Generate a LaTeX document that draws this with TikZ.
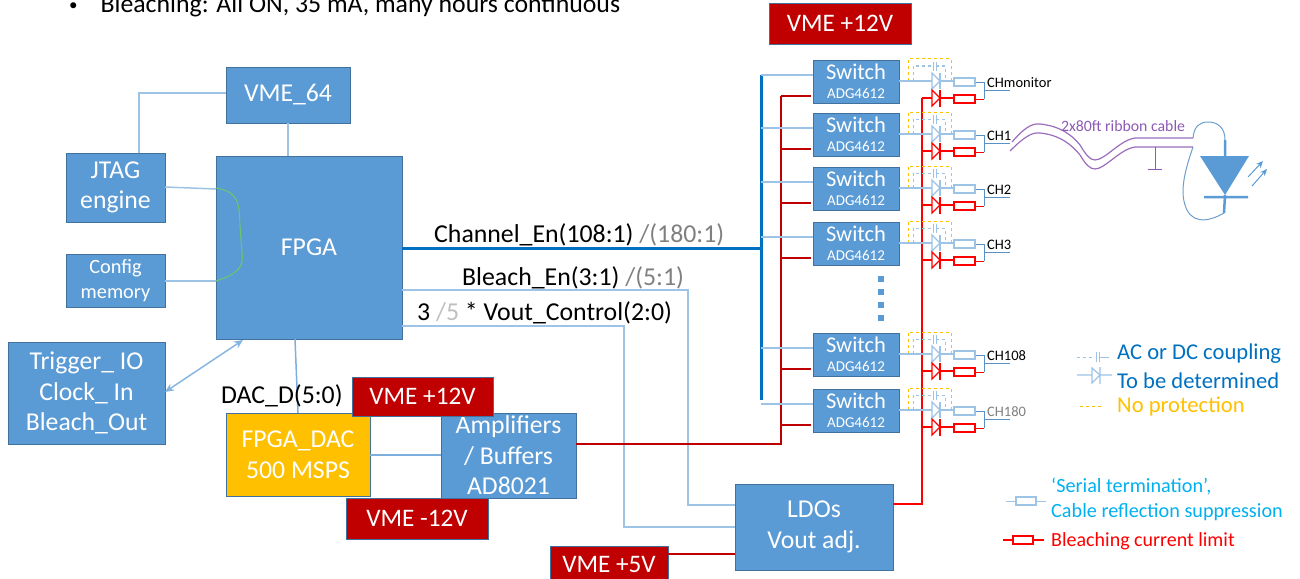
\documentclass[tikz,border=0pt]{standalone}
\usepackage{fontspec}
\setmainfont{Carlito}
\usetikzlibrary{arrows.meta}
\definecolor{boxblue}{HTML}{5B9BD5}
\definecolor{boxedge}{HTML}{41719C}
\definecolor{wireblue}{HTML}{9DC3E6}
\definecolor{busblue}{HTML}{2E75B6}
\definecolor{darkred}{HTML}{C00000}
\definecolor{amber}{HTML}{FFC000}
\definecolor{ribbon}{HTML}{7030A0}
\definecolor{legblue}{HTML}{0070C0}
\definecolor{legcyan}{HTML}{00B0F0}
\tikzset{
  block/.style={draw=boxedge, fill=boxblue, text=white, align=center, inner sep=0pt, font=\fontsize{25.7}{30.5}\selectfont},
  supply/.style={draw=boxedge, fill=darkred, text=white, align=center, inner sep=0pt, font=\fontsize{25.2}{30}\selectfont},
  wire/.style={draw=wireblue, line width=1.5pt},
  redwire/.style={draw=darkred, line width=1.5pt},
  sig/.style={inner sep=0pt, anchor=west, font=\fontsize{25.8}{30}\selectfont},
  legend/.style={inner sep=0pt, anchor=west, font=\fontsize{22.6}{26}\selectfont},
  chlabel/.style={inner sep=0pt, anchor=west, font=\fontsize{14.5}{16}\selectfont},
  res/.style={draw=#1, fill=white, line width=1.2pt, minimum width=21pt, minimum height=8pt, inner sep=0pt},
}
% a box given by its pixel corners: name, left, top, right, bottom, style, text
\newcommand{\pixbox}[7]{\node[#6, minimum width=#4pt-#2pt, minimum height=#5pt-#3pt] (#1) at ({(#2+#4)/2},{(#3+#5)/2}) {#7};}
\begin{document}
\begin{tikzpicture}[x=1pt, y=-1pt, >=stealth]
\useasboundingbox (0,0) rectangle (1300,578);
\clip (0,0) rectangle (1300,578);
\node[inner sep=0pt, anchor=base west, font=\fontsize{25.8}{30}\selectfont] (note) at (69,12.5) {\raisebox{2pt}{\fontsize{17}{20}\selectfont\textbullet}\hspace{22.9pt}Bleaching: All ON, 35 mA, many hours continuous};
% blocks
\pixbox{vme}{226}{67}{350}{123}{block}{VME\_64}
\pixbox{fpga}{216}{156}{402}{339}{block}{FPGA}
\pixbox{jtag}{66}{153}{165}{222}{block}{JTAG\\engine}
\pixbox{config}{66}{254}{165}{307}{block, font=\fontsize{20.3}{25}\selectfont}{Config\\memory}
\pixbox{trigger}{8}{342}{165}{444}{block}{Trigger\_ IO\\Clock\_ In\\Bleach\_Out}
\pixbox{dac}{226}{413}{370}{496}{block, fill=amber, draw=boxedge}{FPGA\_DAC\\500 MSPS}
\pixbox{amp}{441}{413}{576}{498}{block}{Amplifiers\\/ Buffers\\AD8021}
\pixbox{ldo}{735}{484}{893}{570}{block}{LDOs\\Vout adj.}
\pixbox{vtop}{769}{3}{911}{44}{supply}{VME +12V}
\pixbox{vmid}{352}{377}{493}{416}{supply}{VME +12V}
\pixbox{vneg}{346}{498}{488}{539}{supply}{VME -12V}
\pixbox{vfive}{550}{546}{668}{590}{supply}{\raisebox{7pt}{VME +5V}}
% FPGA side wires
\coordinate (jtagup) at (139,93);
\draw[wire] (vme.west |- jtagup) -- (jtagup) -- (jtagup |- jtag.north);
\draw[wire] (288,123) -- (288,156);
\draw[wire] (165,187) -- (216,189);
\draw[wire] (165,281) -- (216,281);
\draw[draw=green!45!gray!80, line width=1pt] (216,188) .. controls (240,192) and (239,205) .. (240,225) .. controls (241,245) and (243,255) .. (242,262) .. controls (240,272) and (228,277) .. (216,281);
\draw[wire, {Stealth[length=9pt,width=8pt]}-{Stealth[length=9pt,width=8pt]}, draw=boxblue!75] (165,392) -- (243,340);
\draw[wire, draw=boxblue!80] (295,339) -- (298,413);
\draw[wire, draw=boxblue!80] (dac.east |- 0,455) -- (amp.west |- 0,455);
\coordinate (blA) at (688,290);
\coordinate (blB) at (624,326);
\draw[wire] (fpga.east |- blA) -- (blA) -- (blA |- 0,505) -- (ldo.west |- 0,505);
\draw[wire] (fpga.east |- blB) -- (blB) -- (blB |- 0,527) -- (ldo.west |- 0,527);
% buses
\coordinate (enbus) at (761,248);
\draw[draw=legblue, line width=3pt] (fpga.east |- enbus) -- (enbus);
\draw[draw=legblue, line width=3pt] (761,75) -- (761,400);
\draw[draw=darkred, line width=2pt] (amp.east |- 0,444) -- (781,444) -- (781,96);
\draw[draw=red, line width=2.5pt] (ldo.east |- 0,504) -- (922,504) -- (922,98);
\draw[draw=darkred, line width=2.5pt] (vfive.east |- 0,554) -- (ldo.west |- 0,554);
% signal names
\node[sig] (chen) at (434,235) {Channel\_En(108:1) {\color{gray}/(180:1)}};
\node[sig] (blen) at (462,278) {Bleach\_En(3:1) {\color{gray}/(5:1)}};
\node[sig] (vout) at (417,313) {3 {\color{lightgray}/5} * Vout\_Control(2:0)};
\node[sig] (dacd) at (221,396) {DAC\_D(5:0)};
% switch channels
\foreach \n/\t/\lab/\col in {a/60/CHmonitor/black, b/113/CH1/black, c/167/CH2/black, d/222/CH3/black, e/333/CH108/black, f/389/CH180/gray}{
  \pixbox{sw\n}{813}{\t}{899}{\t+43}{block}{}
  \node[inner sep=0pt, text=white, font=\fontsize{22.5}{24}\selectfont] (swname\n) at (856,\t+12) {Switch};
  \node[inner sep=0pt, text=white, font=\fontsize{15}{17}\selectfont] (swpart\n) at (856,\t+33) {ADG4612};
  \draw[wire] (761,\t+15) -- (sw\n.west |- 0,\t+15);
  \draw[redwire] (781,\t+36) -- (811,\t+36);
  % protection network
  \draw[draw=amber, line width=1pt, dashed] (908,\t+21) -- (908,\t-1) -- (951,\t-1) -- (951,\t+20);
  \draw[draw=wireblue, line width=1pt, dashed] (913,\t+21) -- (913,\t+6) -- (932,\t+6);
  \draw[draw=wireblue, line width=1pt, dashed] (936,\t+6) -- (945,\t+6) -- (945,\t+21);
  \draw[draw=wireblue, line width=1pt] (933,\t+2) -- (933,\t+11) (936,\t+2) -- (936,\t+11);
  \draw[wire] (899,\t+21) -- (932,\t+21);
  \draw[draw=wireblue, fill=white, line width=1.2pt] (932,\t+13) -- (940,\t+21) -- (932,\t+29) -- cycle;
  \draw[draw=wireblue, line width=1.2pt] (940,\t+13) -- (940,\t+29);
  \draw[wire] (940,\t+21) -- (954,\t+21);
  \draw[draw=red, line width=1.2pt] (922,\t+38) -- (932,\t+38);
  \draw[draw=red, fill=white, line width=1.2pt] (932,\t+30) -- (940,\t+38) -- (932,\t+46) -- cycle;
  \draw[draw=red, line width=1.2pt] (940,\t+30) -- (940,\t+47);
  \draw[draw=red, line width=1.2pt] (940,\t+38) -- (954,\t+38);
  \node[res=wireblue] (rb\n) at (964.5,\t+22) {};
  \node[res=red] (rr\n) at (964.5,\t+39) {};
  \draw[draw=busblue!80, line width=1pt] (rb\n.east) -- (984,\t+22) -- (984,\t+39);
  \draw[draw=red, line width=1pt] (rr\n.east) -- (984,\t+39);
  \draw[draw=busblue!80, line width=1pt] (984,\t+30) -- (1010,\t+30);
  \node[chlabel, text=\col] (ch\n) at (987,\t+22.5) {\lab};
}
% dots between the switches
\foreach \y in {279,292,305,318}
  \fill[boxblue] (877.5,\y-3) rectangle (883.5,\y+3);
% ribbon cable
\draw[draw=ribbon!70, line width=1.2pt] (1012,142) .. controls (1024,128) and (1032,123) .. (1040,124) .. controls (1060,126) and (1072,135) .. (1080,145) .. controls (1086,155) and (1090,160) .. (1095,160) .. controls (1105,160) and (1120,140) .. (1135,138) -- (1193,138);
\draw[draw=ribbon!70, line width=1.2pt] (1010,151) .. controls (1024,137) and (1032,132) .. (1040,133) .. controls (1060,135) and (1072,145) .. (1080,155) .. controls (1086,165) and (1090,169) .. (1095,169) .. controls (1105,169) and (1120,149) .. (1135,147) -- (1193,147);
\draw[draw=ribbon!80, line width=1pt] (1155,147) -- (1155,169) (1148,169) -- (1162,169);
\node[inner sep=0pt, text=ribbon!80, font=\fontsize{15.8}{18}\selectfont] (ribbonlab) at (1123,126) {2x80ft ribbon cable};
% LED
\coordinate (ledtop) at (1225,140);
\coordinate (ledbot) at (1224,213);
\draw[draw=busblue!70, line width=1pt] (1193,138) .. controls (1194,126) and (1200,122) .. (1208,122) .. controls (1218,122) and (1225,128) .. (ledtop);
\draw[draw=busblue!70, line width=1pt] (1193,147) .. controls (1185,170) and (1180,190) .. (1185,205) .. controls (1190,222) and (1205,224) .. (ledbot);
\draw[draw=boxblue, line width=2.5pt] (ledtop) -- (1225,156) (1225,195) -- (ledbot) (1204,197) -- (1248,197);
\fill[boxblue] (1200,156) -- (1249,156) -- (1225,195) -- cycle;
\draw[draw=boxblue, line width=1pt, -{Stealth[length=7pt,width=6pt]}] (1248,177) -- (1263,161);
\draw[draw=boxblue, line width=1pt, -{Stealth[length=7pt,width=6pt]}] (1252,186) -- (1267,169);
% legend
\draw[draw=wireblue, line width=1pt, dashed] (1077,357) -- (1095,357);
\draw[draw=wireblue, line width=1pt] (1096,352) -- (1096,362) (1099,352) -- (1099,362) (1099,357) -- (1109,357);
\node[legend, text=legblue] (legac) at (1117,354) {AC or DC coupling};
\draw[draw=wireblue, line width=1.2pt] (1077,375) -- (1092,375) (1100,367) -- (1100,384) (1100,375) -- (1112,375) (1092,368) -- (1100,375) -- (1092,383) -- cycle;
\node[legend, text=legblue] (legtbd) at (1117,381) {To be determined};
\draw[draw=amber, line width=1pt, dashed] (1080,406) -- (1103,406);
\node[legend, text=amber] (legno) at (1117,407) {No protection};
\node[res=wireblue, minimum width=20pt] (legser) at (1026,501) {};
\draw[draw=wireblue, line width=1pt] (1006,501) -- (legser.west) (legser.east) -- (1046,501);
\node[legend, text=legcyan, font=\fontsize{20.2}{25}\selectfont, align=left] (legserial) at (1051,499) {‘Serial termination’,\\Cable reflection suppression};
\node[res=red, minimum width=20pt] (legred) at (1023,540) {};
\draw[draw=red, line width=1.2pt] (1003,540) -- (legred.west) (legred.east) -- (1044,540);
\node[legend, text=red, font=\fontsize{20}{23}\selectfont] (legbleach) at (1051,541) {Bleaching current limit};
\end{tikzpicture}
\end{document}
